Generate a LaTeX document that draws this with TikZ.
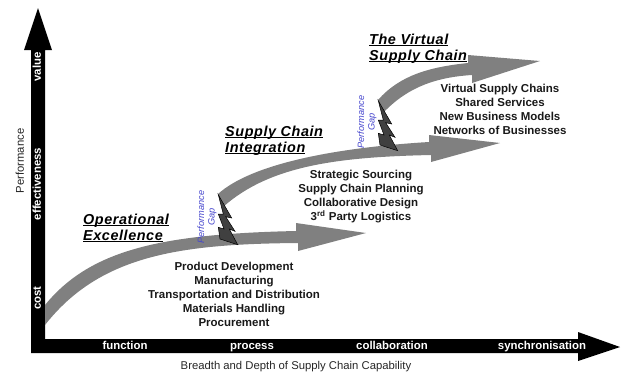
\documentclass[tikz,border=0pt]{standalone}
\usepackage{fontspec}
\setmainfont{Liberation Sans}
\definecolor{gaptext}{RGB}{70,70,205}
\newsavebox{\hdbox}
\newcommand{\hdline}[1]{\sbox{\hdbox}{#1}\rlap{\rule[-1.7pt]{\wd\hdbox}{1.2pt}}\usebox{\hdbox}}
\tikzset{
  x=1pt,y=-1pt,
  flow/.style={fill=black!50,draw=none},
  axisbar/.style={fill=black,draw=none},
  bolt/.style={fill=black!75,draw=black,line width=0.5pt,line join=miter},
  axislabel/.style={text=white,font=\fontsize{11.4}{13}\selectfont\bfseries,inner sep=0pt,text height=8.2pt,text depth=2.4pt},
  sidelabel/.style={font=\fontsize{11.3}{13}\selectfont,inner sep=0pt,text=black!85,text height=8.2pt,text depth=2.4pt},
  listing/.style={font=\fontsize{11.5}{14}\selectfont\bfseries,align=center,inner sep=0pt,text=black!90},
  heading/.style={font=\fontsize{14.4}{17}\selectfont\bfseries\itshape\addfontfeature{LetterSpace=4},anchor=base west,inner sep=0pt},
  gap/.style={font=\fontsize{9.2}{10.5}\selectfont\itshape,text=gaptext,align=center,rotate=90,inner sep=0pt},
}
\begin{document}
\begin{tikzpicture}
\useasboundingbox (0,0) rectangle (625,378);
% axes
\fill[axisbar] (31,353) -- (31,50) -- (24,50) -- (38,8) -- (52,50) -- (45,50) -- (45,339)
  -- (578,339) -- (578,332) -- (620,347) -- (578,361) -- (578,353) -- cycle;
% flow arrows
\fill[flow] (45,305) .. controls (90,250) and (160,234) .. (296,231) -- (296,223) -- (366,233)
  -- (298,251) -- (298,243) .. controls (180,244) and (100,255) .. (45,325) -- cycle;
\fill[flow] (218,194) .. controls (250,165) and (330,148) .. (429,142) -- (429,135) -- (500,143)
  -- (431,162) -- (431,155) .. controls (340,157) and (270,165) .. (223,207) -- cycle;
\fill[flow] (378,100) .. controls (400,75) and (430,67) .. (468,63) -- (468,55) -- (540,61)
  -- (472,83) -- (472,75) .. controls (440,77) and (410,85) .. (384,112) -- cycle;
% lightning bolts
\foreach \dx/\dy in {0/0,-160/94}{
  \begin{scope}[shift={(\dx,\dy)}]
  \draw[bolt] (378.3,100.7) -- (391.7,124) -- (385.7,122.7) -- (395,137.3) -- (389.3,135)
    -- (397.7,150.7) -- (380,145) -- (378.3,133.3) -- (384,135) -- (378.3,120) -- (383.3,120) -- cycle;
  \end{scope}
}
% axis labels
\node[axislabel,rotate=90] (value) at (38,67) {value};
\node[axislabel,rotate=90] (effect) at (38,184) {effectiveness};
\node[axislabel,rotate=90] (cost) at (38,298) {cost};
\node[axislabel] (function) at (125,347) {function};
\node[axislabel] (process) at (252,347) {process};
\node[axislabel] (collab) at (392,347) {collaboration};
\node[axislabel] (synch) at (542,347) {synchronisation};
\node[sidelabel,rotate=90] (perf) at (21,161) {Performance};
\node[sidelabel] (breadth) at (296,367) {Breadth and Depth of Supply Chain Capability};
% headings
\node[heading] (h1a) at (83,224) {\hdline{Operational}};
\node[heading] (h1b) at (83,240) {\hdline{Excellence}};
\node[heading] (h2a) at (225,136) {\hdline{Supply Chain}};
\node[heading] (h2b) at (225,152) {\hdline{Integration}};
\node[heading] (h3a) at (369,44) {\hdline{The Virtual}};
\node[heading] (h3b) at (369,60) {\hdline{Supply Chain}};
% lists
\node[listing] (l1) at (234,294.5) {Product Development\\Manufacturing\\Transportation and Distribution\\Materials Handling\\Procurement};
\node[listing] (l2) at (361,197) {Strategic Sourcing\\Supply Chain Planning\\Collaborative Design\\3\textsuperscript{rd} Party Logistics};
\node[listing] (l3) at (500,109) {Virtual Supply Chains\\Shared Services\\New Business Models\\Networks of Businesses};
% gap labels
\node[gap] (g1) at (207,217) {Performance\\Gap};
\node[gap] (g2) at (367,122) {Performance\\Gap};
\end{tikzpicture}
\end{document}
